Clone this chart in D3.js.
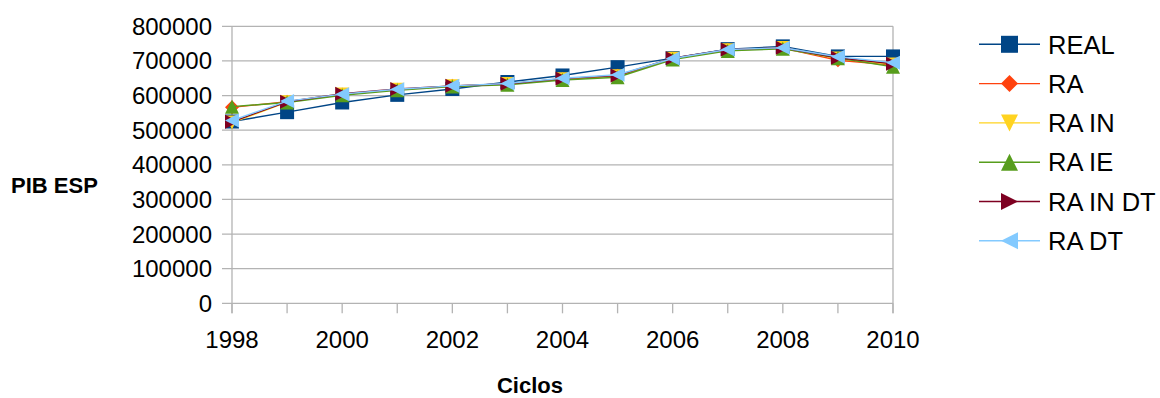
<!DOCTYPE html>
<html>
<head>
<meta charset="utf-8">
<script src="https://cdn.jsdelivr.net/npm/d3@7"></script>
<style>
  html, body { margin: 0; padding: 0; background: #fff; }
  svg { display: block; font-family: "Liberation Sans", Arial, sans-serif; }
</style>
</head>
<body>
<svg id="chart" width="1160" height="398"></svg>
<script>
const years = [1998, 1999, 2000, 2001, 2002, 2003, 2004, 2005, 2006, 2007, 2008, 2009, 2010];
const xTickLabels = [1998, 2000, 2002, 2004, 2006, 2008, 2010];
const yTicks = [0, 100000, 200000, 300000, 400000, 500000, 600000, 700000, 800000];
const seriesNames = ["REAL", "RA", "RA IN", "RA IE", "RA IN DT", "RA DT"];
const real    = [525000, 552000, 580000, 602000, 619000, 639000, 658000, 682000, 708000, 734000, 742000, 713000, 713000];
const ra      = [566000, 582000, 603000, 617000, 628000, 633000, 648000, 657000, 707000, 732000, 737000, 702000, 688000];
const raIn    = [522000, 581000, 603000, 617000, 627000, 633000, 647000, 656000, 706000, 731000, 737000, 707000, 690000];
const raIe    = [568000, 580000, 601000, 615000, 626000, 631000, 645000, 653000, 704000, 729000, 735000, 708000, 683000];
const raInDt  = [524000, 582000, 605000, 619000, 628000, 634000, 649000, 658000, 708000, 733000, 738000, 709000, 692000];
const raDt    = [528000, 584000, 604000, 618000, 628000, 635000, 650000, 660000, 707000, 733000, 738000, 712000, 695000];
const seriesValues = [real, ra, raIn, raIe, raInDt, raDt];
const colors = ["#004586", "#ff420e", "#ffd320", "#579d1c", "#7e0021", "#83caff"];
const shapes = ["square", "diamond", "down", "up", "right", "left"];

const svg = d3.select("#chart");
const x = d3.scaleLinear().domain([1998, 2010]).range([232, 893]);
const y = d3.scaleLinear().domain([0, 800000]).range([303.3, 26.3]);
const grid = "#b3b3b3";

// horizontal gridlines
svg.append("g").selectAll("line").data(yTicks).join("line")
  .attr("x1", x(1998) - 10).attr("x2", x(2010))
  .attr("y1", d => y(d)).attr("y2", d => y(d))
  .attr("stroke", grid).attr("stroke-width", 1.3);

// left axis & right border
[1998, 2010].forEach(v => {
  svg.append("line").attr("x1", x(v)).attr("x2", x(v))
    .attr("y1", y(800000)).attr("y2", y(0) + 10)
    .attr("stroke", grid).attr("stroke-width", 1.3);
});
// x ticks
svg.append("g").selectAll("line").data(years).join("line")
  .attr("x1", d => x(d)).attr("x2", d => x(d))
  .attr("y1", y(0)).attr("y2", y(0) + 10)
  .attr("stroke", grid).attr("stroke-width", 1.3);

// y labels
svg.append("g").selectAll("text").data(yTicks).join("text")
  .attr("x", 212).attr("y", d => y(d) + 8.5)
  .attr("text-anchor", "end").attr("font-size", 24).attr("fill", "#000")
  .text(d => d);

// x labels
svg.append("g").selectAll("text").data(xTickLabels).join("text")
  .attr("x", d => x(d)).attr("y", 348.3)
  .attr("text-anchor", "middle").attr("font-size", 24).attr("fill", "#000")
  .text(d => d);

// axis titles
svg.append("text").attr("x", 11).attr("y", 193.3).attr("font-size", 22)
  .attr("font-weight", "bold").text("PIB ESP");
svg.append("text").attr("x", 530).attr("y", 393).attr("font-size", 22)
  .attr("font-weight", "bold").attr("text-anchor", "middle").text("Ciclos");

function markerPath(shape, cx, cy, h) {
  switch (shape) {
    case "square": return `M${cx-h},${cy-h}h${2*h}v${2*h}h${-2*h}Z`;
    case "diamond": return `M${cx},${cy-h}L${cx+h},${cy}L${cx},${cy+h}L${cx-h},${cy}Z`;
    case "down": return `M${cx-h},${cy-h}L${cx+h},${cy-h}L${cx},${cy+h}Z`;
    case "up": return `M${cx-h},${cy+h}L${cx+h},${cy+h}L${cx},${cy-h}Z`;
    case "right": return `M${cx-h},${cy-h}L${cx+h},${cy}L${cx-h},${cy+h}Z`;
    case "left": return `M${cx+h},${cy-h}L${cx-h},${cy}L${cx+h},${cy+h}Z`;
  }
}

const line = d3.line().x((d, i) => x(years[i])).y(d => y(d));

seriesValues.forEach((vals, si) => {
  const g = svg.append("g");
  g.append("path").datum(vals).attr("d", line)
    .attr("fill", "none").attr("stroke", colors[si]).attr("stroke-width", 1.4);
  g.selectAll("path.m").data(vals).join("path").attr("class", "m")
    .attr("d", (d, i) => markerPath(shapes[si], x(years[i]), y(d), 7))
    .attr("fill", colors[si]);
});

// legend
const legendY0 = 44.3, legendStep = 39.3;
seriesNames.forEach((name, si) => {
  const cy = legendY0 + si * legendStep;
  svg.append("line").attr("x1", 979).attr("x2", 1040).attr("y1", cy).attr("y2", cy)
    .attr("stroke", colors[si]).attr("stroke-width", 1.4);
  svg.append("path").attr("d", markerPath(shapes[si], 1009.5, cy, 8.5)).attr("fill", colors[si]);
  svg.append("text").attr("x", 1048).attr("y", cy + 9.2).attr("font-size", 25.5)
    .attr("fill", "#000").text(name);
});
</script>
</body>
</html>
